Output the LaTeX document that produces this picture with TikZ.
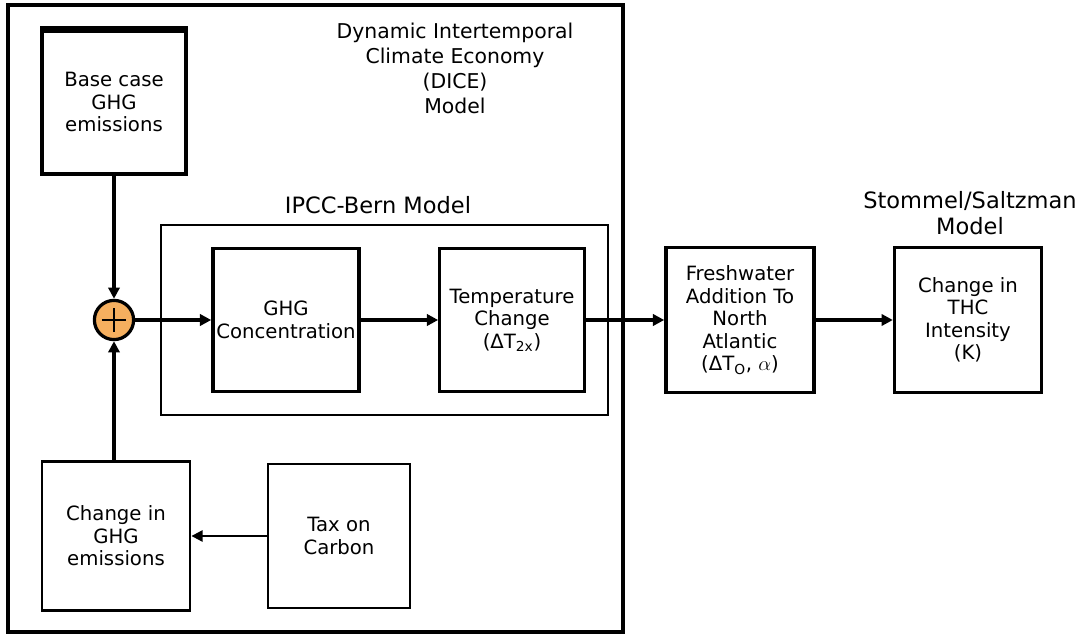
\documentclass[tikz,border=0pt]{standalone}
\usepackage{fontspec}
\setmainfont{DejaVu Sans}
\usetikzlibrary{arrows.meta}
\definecolor{sumorange}{RGB}{245,175,95}

\begin{document}
\begin{tikzpicture}[x=0.025cm,y=-0.025cm,
  blk/.style={draw,line width=2.5pt,align=center,inner sep=0pt,
    font=\fontsize{14}{16}\selectfont},
  ttl/.style={align=center,font=\fontsize{14.5}{17.8}\selectfont},
  bigttl/.style={align=center,font=\fontsize{16}{19}\selectfont},
  flow/.style={line width=2.3pt,-{Triangle[length=8pt,width=8pt]}},
  sumnode/.style={circle,draw,line width=2.3pt,fill=sumorange,minimum size=0.98cm,inner sep=0pt}]
  \useasboundingbox (0,0) rectangle (1083,635);

  % frames
  \draw[line width=2.3pt] (8,5) rectangle (623,632);
  \draw[line width=2pt] (161,225) rectangle (608,415);
  \node[ttl] (dicettl) at (455,68) {Dynamic Intertemporal\\Climate Economy\\(DICE)\\Model};
  \node[bigttl] (ipccttl) at (378,205) {IPCC-Bern Model};
  \node[bigttl] (stomttl) at (970,213) {Stommel/Saltzman\\Model};

  % boxes
  \node[blk,minimum width=3.6cm,minimum height=3.6cm] (base) at (114,102) {Base case\\GHG\\emissions};
  \draw[line width=4.5pt] ([yshift=-1pt]base.north west) -- ([yshift=-1pt]base.north east);
  \node[blk,minimum width=3.65cm,minimum height=3.58cm] (ghg) at (286,320) {GHG\\Concentration};
  \node[blk,line width=2pt,minimum width=3.62cm,minimum height=3.58cm] (temp) at (512,320) {Temperature\\Change\\(ΔT\textsubscript{2x})};
  \node[blk,minimum width=3.7cm,minimum height=3.62cm] (fresh) at (740,320) {Freshwater\\Addition To\\North\\Atlantic\\(ΔT\textsubscript{O}, $\alpha$)};
  \node[blk,minimum width=3.67cm,minimum height=3.62cm] (thc) at (968,320) {Change in\\THC\\Intensity\\(K)};
  \node[blk,line width=2pt,minimum width=3.7cm,minimum height=3.72cm] (chg) at (116,536) {Change in\\GHG\\emissions};
  \node[blk,line width=2pt,minimum width=3.55cm,minimum height=3.6cm] (tax) at (339,536) {Tax on\\Carbon};

  % sum
  \node[sumnode] (sum) at (114,320) {};
  \draw[line width=1.4pt] ([xshift=-0.3cm]sum.center) -- ([xshift=0.3cm]sum.center);
  \draw[line width=1.4pt] ([yshift=-0.3cm]sum.center) -- ([yshift=0.3cm]sum.center);

  % connectors
  \draw[flow] (base.south) -- (sum.north);
  \draw[flow] (chg.north -| sum.south) -- (sum.south);
  \draw[flow] (sum.east) -- (ghg.west);
  \draw[flow] (ghg.east) -- (temp.west);
  \draw[flow] (temp.east) -- (fresh.west);
  \draw[flow] (fresh.east) -- (thc.west);
  \draw[flow,line width=1.5pt] (tax.west) -- (chg.east);
\end{tikzpicture}
\end{document}
